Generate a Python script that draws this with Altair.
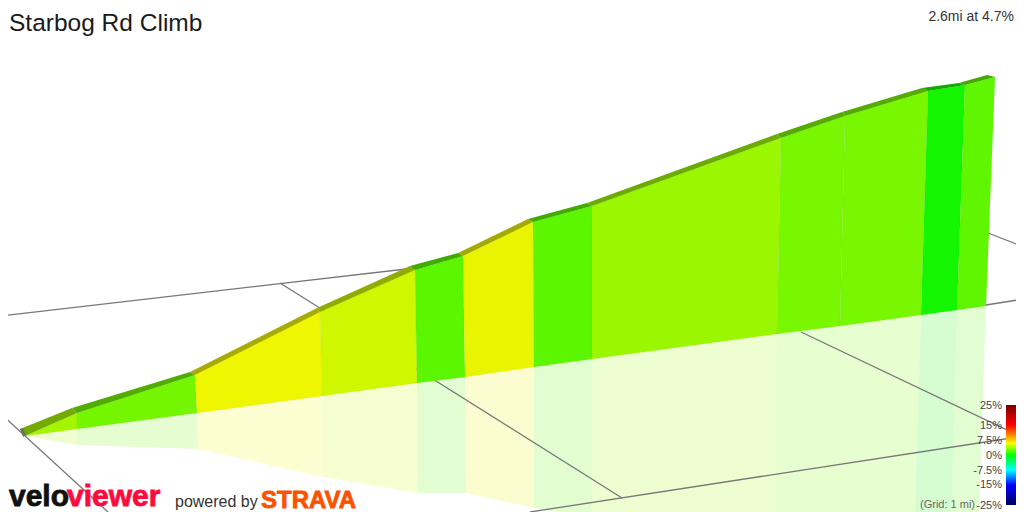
import altair as alt

# Picture positions (x, y) of the ride's outline, one per segment boundary
base_x = [25, 77, 197, 322, 417, 465, 534, 592, 777, 840, 921, 957, 986]
base_y = [436, 429, 413, 396, 383, 377, 367, 359, 334, 326, 315, 310, 306]
top_x = [25, 77, 195, 320, 415, 463, 533, 592, 781, 845, 928, 965, 995]
top_y = [436, 413, 375, 312, 270, 256, 222, 206, 138, 116, 91, 85, 77]
back_x = [20, 72, 190, 317, 410, 458, 528, 587, 777, 842, 922, 959, 987]
back_y = [429, 408, 372, 308, 266, 253, 219, 203, 134, 112, 88, 83, 75]
refl_x = [25, 77, 198, 323, 418, 466, 534, 592, 775, 836, 914, 950, 978]
refl_y = [436, 445, 449, 477, 493, 493, 508, 517, 540, 540, 550, 550, 550]
seg_colors = ["#a6f500", "#74f600", "#eef600", "#cff700", "#5cf600", "#e9f500",
              "#5cf700", "#9af700", "#78f700", "#78f700", "#14f500", "#60f500"]

grid_x1 = [0, 280, 801, 988, 986, 530, 0]
grid_y1 = [316, 283, 332, 233, 305, 512, 413]
grid_x2 = [415, 622, 1024, 1024, 1024, 1024, 108]
grid_y2 = [268, 498, 438, 247, 299, 436, 512]

legend_labels = ["25%", "15%", "7.5%", "0%", "-7.5%", "-15%", "-25%"]
legend_y = [405, 425, 440, 455, 470, 484, 505]
legend_bar_x = [1006, 1016]
legend_bar_y = [405, 505]
legend_stops = [(0, "#7a0000"), (0.2, "#ff0000"), (0.35, "#ffcc00"), (0.38, "#ffff00"),
                (0.5, "#00ff00"), (0.65, "#00ffff"), (0.8, "#0000ff"), (1, "#000060")]


def darker(c, k=0.7):
    return "#" + "".join("%02x" % int(int(c[i:i + 2], 16) * k) for i in (1, 3, 5))


def poly(xs, ys, fill):
    ring = [[x, y] for x, y in zip(xs, ys)]
    ring.append(ring[0])
    return {"type": "Feature", "geometry": {"type": "Polygon", "coordinates": [ring]},
            "properties": {"fill": fill}}


n = len(seg_colors)
walls = [poly([base_x[i], base_x[i + 1], top_x[i + 1], top_x[i]],
              [base_y[i], base_y[i + 1], top_y[i + 1], top_y[i]], seg_colors[i]) for i in range(n)]
roads = [poly([top_x[i], top_x[i + 1], back_x[i + 1], back_x[i]],
              [top_y[i], top_y[i + 1], back_y[i + 1], back_y[i]], darker(seg_colors[i])) for i in range(n)]
refls = [poly([base_x[i], base_x[i + 1], refl_x[i + 1], refl_x[i]],
              [base_y[i], base_y[i + 1], refl_y[i + 1], refl_y[i]], seg_colors[i]) for i in range(n)]
lines = [{"type": "Feature", "geometry": {"type": "LineString", "coordinates": [[a, b], [c, d]]},
          "properties": {}} for a, b, c, d in zip(grid_x1, grid_y1, grid_x2, grid_y2)]
cap = [poly([20, 23, 26, 23], [429, 428, 435, 437], "#667755")]
bar = [poly([legend_bar_x[0], legend_bar_x[1], legend_bar_x[1], legend_bar_x[0]],
            [legend_bar_y[0], legend_bar_y[0], legend_bar_y[1], legend_bar_y[1]], "#000")]

fill_enc = alt.Color("properties.fill:N", scale=None)


def shapes(features, **kw):
    return alt.Chart(alt.Data(values=features)).mark_geoshape(**kw).encode(color=fill_enc)


def text(items, **kw):
    return alt.Chart(alt.Data(values=items)).mark_text(
        font="Liberation Sans", baseline="alphabetic", **kw).encode(
        longitude="x:Q", latitude="y:Q", text="t:N")


layers = [
    shapes(refls, opacity=0.18),
    alt.Chart(alt.Data(values=lines)).mark_geoshape(filled=False, stroke="#777777", strokeWidth=1.3),
    shapes(walls, strokeWidth=0.6, stroke="#000000", strokeOpacity=0.05),
    shapes(roads),
    shapes(cap),
    alt.Chart(alt.Data(values=bar)).mark_geoshape(
        fill=alt.Gradient(gradient="linear", x1=0, y1=0, x2=0, y2=1,
                          stops=[alt.GradientStop(offset=o, color=c) for o, c in legend_stops])),
    text([{"x": 9, "y": 31, "t": "Starbog Rd Climb"}], align="left", fontSize=24.5, color="#1a1a1a"),
    text([{"x": 1014, "y": 21, "t": "2.6mi at 4.7%"}], align="right", fontSize=14, color="#333333"),
    text([{"x": 1002, "y": y + 4, "t": t} for t, y in zip(legend_labels, legend_y)],
         align="right", fontSize=11, color="#444444"),
    text([{"x": 975, "y": 508, "t": "(Grid: 1 mi)"}], align="right", fontSize=11, color="#666666"),
    text([{"x": 9, "y": 506, "t": "velo"}], align="left", fontSize=30, fontWeight="bold",
         color="#111111", stroke="#111111", strokeWidth=0.8),
    text([{"x": 67, "y": 506, "t": "viewer"}], align="left", fontSize=30, fontWeight="bold",
         color="#ff0a3c", stroke="#ff0a3c", strokeWidth=0.8),
    text([{"x": 175, "y": 507, "t": "powered by"}], align="left", fontSize=16, color="#333333"),
    text([{"x": 261, "y": 508, "t": "STRAVA"}], align="left", fontSize=24, fontWeight="bold",
         color="#fc5200", stroke="#fc5200", strokeWidth=0.8),
]

chart = alt.layer(*layers).project(type="identity", scale=1, translate=[-8, -8]).properties(
    width=1008, height=504, padding=0,
    autosize=alt.AutoSizeParams(type="none"),
).configure_view(stroke=None)

chart.save("out.html", embed_options={"renderer": "svg", "actions": False})
